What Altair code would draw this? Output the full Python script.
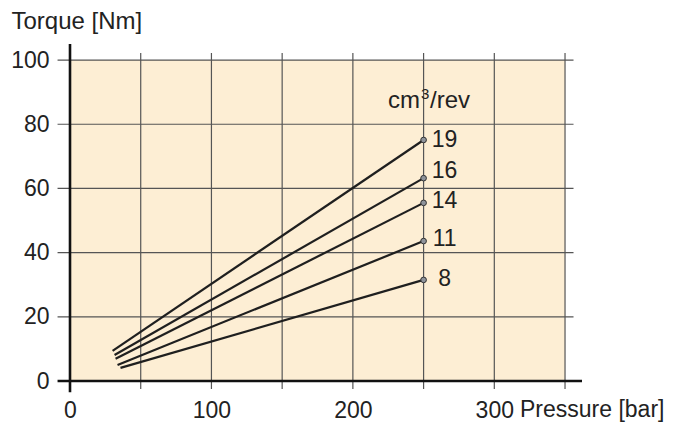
import altair as alt
import pandas as pd

# --- data ---
displacement = [19, 16, 14, 11, 8]
p_start = [30.1, 31.5, 32.2, 33.6, 35.7]
t_start = [9.4, 8.1, 6.9, 5.0, 4.1]
p_end = [250, 250, 250, 250, 250]
t_end = [75.1, 63.2, 55.5, 43.6, 31.5]
label_shift_px = [0, -7, -2, -2, -1]

x_grid = [50, 100, 150, 200, 250, 300, 350]
y_grid = [20, 40, 60, 80, 100]
x_ticks = [0, 100, 200, 300]
y_ticks = [0, 20, 40, 60, 80, 100]

X_DOM = [0, 362]
Y_DOM = [0, 105]
W, H = 512, 337
PX_PER_Y = H / (Y_DOM[1] - Y_DOM[0])

FONT = "Liberation Sans"
FS = 23
FS_T = 24
TXT = "#222222"
GRID = "#555555"

xs = alt.Scale(domain=X_DOM, nice=False, zero=False)
ys = alt.Scale(domain=Y_DOM, nice=False, zero=False)

rows = []
for d, ps, ts, pe, te in zip(displacement, p_start, t_start, p_end, t_end):
    rows.append({"disp": d, "p": ps, "t": ts})
    rows.append({"disp": d, "p": pe, "t": te})
lines_df = pd.DataFrame(rows)
ends_df = pd.DataFrame({"disp": displacement, "p": p_end, "t": t_end,
                        "shift": label_shift_px})

one = pd.DataFrame({"a": [0]})

bg = alt.Chart(one).mark_rect(color="#FDEED4").encode(
    x=alt.X("x0:Q", scale=xs, axis=alt.Axis(values=x_ticks, domain=False, ticks=False,
                                              grid=False, title=None, labelPadding=18,
                                              labelBaseline="top", labelFlush=False)),
    x2="x1:Q",
    y=alt.Y("y0:Q", scale=ys, axis=alt.Axis(values=y_ticks, domain=False, ticks=False,
                                              grid=False, title=None, labelPadding=21,
                                              labelFlush=False)),
    y2="y1:Q",
).transform_calculate(x0="0", x1="350", y0="0", y1="100")

vgrid = alt.Chart(pd.DataFrame({"g": x_grid})).mark_rule(color=GRID, strokeWidth=1.2).encode(
    x=alt.X("g:Q", scale=xs),
    y=alt.YDatum(-2.5, scale=ys),
    y2=alt.Y2Datum(102.2),
)
hgrid = alt.Chart(pd.DataFrame({"g": y_grid})).mark_rule(color=GRID, strokeWidth=1.2).encode(
    y=alt.Y("g:Q", scale=ys),
    x=alt.XDatum(-8.8, scale=xs),
    x2=alt.X2Datum(356),
)
xaxis_line = alt.Chart(one).mark_rule(color="#111111", strokeWidth=2.6).encode(
    y=alt.YDatum(0, scale=ys),
    x=alt.XDatum(-8.8, scale=xs),
    x2=alt.X2Datum(362),
)
yaxis_line = alt.Chart(one).mark_rule(color="#111111", strokeWidth=2.6).encode(
    x=alt.XDatum(0, scale=xs),
    y=alt.YDatum(-3.5, scale=ys),
    y2=alt.Y2Datum(105),
)

lines = alt.Chart(lines_df).mark_line(color="#1f1f1f", strokeWidth=2.2).encode(
    x=alt.X("p:Q", scale=xs),
    y=alt.Y("t:Q", scale=ys),
    detail="disp:N",
)
points = alt.Chart(ends_df).mark_point(filled=True, shape="circle", size=32,
                                       fill="#8e939b", stroke="#333333",
                                       strokeWidth=1, opacity=1).encode(
    x=alt.X("p:Q", scale=xs),
    y=alt.Y("t:Q", scale=ys),
)
labels = alt.Chart(ends_df).transform_calculate(
    ly=f"datum.t - datum.shift / {PX_PER_Y}"
).mark_text(font=FONT, fontSize=FS, color=TXT, align="center", baseline="middle",
            dx=21).encode(
    x=alt.X("p:Q", scale=xs),
    y=alt.Y("ly:Q", scale=ys),
    text="disp:N",
)

# unit label "cm³/rev" built from three pieces for a real superscript
UX, UY = 247.5, 85
unit_cm = alt.Chart(one).mark_text(
    font=FONT, fontSize=FS_T, color=TXT, align="right", baseline="alphabetic"
).encode(x=alt.XDatum(UX, scale=xs), y=alt.YDatum(UY, scale=ys), text=alt.value("cm"))
unit_sup = alt.Chart(one).mark_text(
    font=FONT, fontSize=15, color=TXT, align="left", baseline="alphabetic", dx=1, dy=-9
).encode(x=alt.XDatum(UX, scale=xs), y=alt.YDatum(UY, scale=ys), text=alt.value("3"))
unit_rev = alt.Chart(one).mark_text(
    font=FONT, fontSize=FS_T, color=TXT, align="left", baseline="alphabetic", dx=10
).encode(x=alt.XDatum(UX, scale=xs), y=alt.YDatum(UY, scale=ys), text=alt.value("/rev"))

ytitle = alt.Chart(one).mark_text(
    font=FONT, fontSize=FS_T, color=TXT, align="left", baseline="alphabetic"
).encode(
    x=alt.value(-58.5), y=alt.value(-15), text=alt.value("Torque [Nm]"),
)
xtitle = alt.Chart(one).mark_text(
    font=FONT, fontSize=FS, color=TXT, align="left", baseline="alphabetic"
).encode(
    x=alt.value(450), y=alt.value(373), text=alt.value("Pressure [bar]"),
)

chart = alt.layer(bg, vgrid, hgrid, xaxis_line, yaxis_line, lines, points, labels,
                  unit_cm, unit_sup, unit_rev, ytitle, xtitle).properties(
    width=W, height=H,
    autosize=alt.AutoSizeParams(type="none"),
    padding={"left": 62, "top": 36, "right": 86, "bottom": 41},
).configure_view(stroke=None).configure_axis(
    labelFont=FONT, labelFontSize=FS, labelColor=TXT,
)

chart.save("out.html", embed_options={"renderer": "svg", "actions": False})
